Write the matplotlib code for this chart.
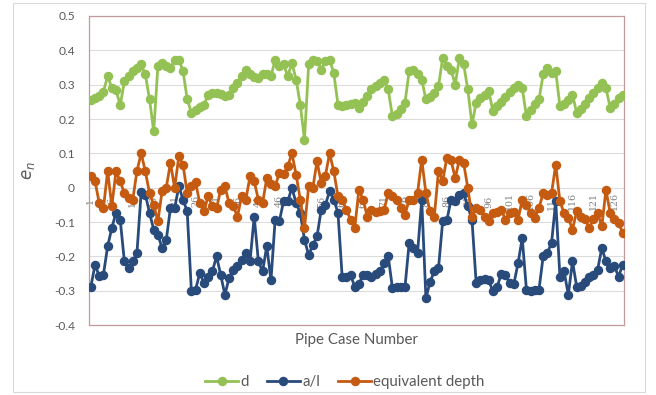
import matplotlib
matplotlib.use("Agg")
import matplotlib.pyplot as plt
from matplotlib.lines import Line2D
from matplotlib.patches import Rectangle

plt.rcParams['font.family'] = ['Lato', 'DejaVu Sans']

# pipe case numbers 1..128
cases = list(range(1, 129))

d_vals = [
    0.255, 0.262, 0.268, 0.280, 0.325, 0.290, 0.285, 0.240, 0.310, 0.325,
    0.340, 0.349, 0.359, 0.330, 0.258, 0.164, 0.354, 0.363, 0.355, 0.349,
    0.372, 0.373, 0.340, 0.258, 0.218, 0.225, 0.235, 0.242, 0.270, 0.276,
    0.275, 0.272, 0.266, 0.270, 0.290, 0.305, 0.325, 0.344, 0.330, 0.322,
    0.318, 0.330, 0.330, 0.325, 0.373, 0.354, 0.360, 0.325, 0.363, 0.315,
    0.242, 0.140, 0.359, 0.373, 0.370, 0.344, 0.370, 0.373, 0.334, 0.242,
    0.237, 0.240, 0.245, 0.247, 0.232, 0.250, 0.266, 0.286, 0.295, 0.305,
    0.315, 0.286, 0.208, 0.215, 0.228, 0.247, 0.339, 0.344, 0.330, 0.315,
    0.257, 0.265, 0.275, 0.295, 0.378, 0.354, 0.344, 0.300, 0.378, 0.360,
    0.286, 0.184, 0.247, 0.261, 0.270, 0.281, 0.223, 0.237, 0.250, 0.265,
    0.280, 0.290, 0.300, 0.290, 0.208, 0.227, 0.245, 0.257, 0.330, 0.349,
    0.335, 0.339, 0.237, 0.245, 0.255, 0.271, 0.218, 0.230, 0.245, 0.260,
    0.275, 0.290, 0.305, 0.290, 0.232, 0.245, 0.260, 0.271,
]

al_vals = [
    -0.288, -0.224, -0.258, -0.253, -0.171, -0.117, -0.073, -0.093, -0.215, -0.235,
    -0.215, -0.190, -0.014, -0.020, -0.073, -0.122, -0.137, -0.176, -0.152, -0.059,
    -0.060, 0.004, -0.035, -0.069, -0.302, -0.297, -0.249, -0.278, -0.260, -0.244,
    -0.200, -0.254, -0.312, -0.263, -0.239, -0.229, -0.210, -0.190, -0.215, -0.084,
    -0.215, -0.244, -0.170, -0.270, -0.093, -0.098, -0.040, -0.040, 0.000, -0.045,
    -0.073, -0.152, -0.196, -0.167, -0.142, -0.064, -0.050, -0.010, -0.035, -0.073,
    -0.259, -0.260, -0.255, -0.288, -0.280, -0.255, -0.255, -0.260, -0.250, -0.244,
    -0.220, -0.200, -0.292, -0.290, -0.290, -0.290, -0.161, -0.176, -0.190, -0.035,
    -0.322, -0.274, -0.244, -0.235, -0.098, -0.095, -0.035, -0.040, -0.020, -0.016,
    -0.054, -0.093, -0.278, -0.270, -0.265, -0.270, -0.302, -0.290, -0.250, -0.255,
    -0.278, -0.280, -0.220, -0.147, -0.297, -0.300, -0.298, -0.297, -0.200, -0.190,
    -0.161, -0.040, -0.259, -0.244, -0.312, -0.215, -0.288, -0.285, -0.274, -0.259,
    -0.255, -0.239, -0.176, -0.215, -0.235, -0.229, -0.259, -0.224,
]

eq_vals = [
    0.033, 0.018, -0.045, -0.059, 0.048, -0.054, 0.048, 0.018, -0.016, -0.030,
    -0.035, 0.048, 0.100, 0.048, -0.016, -0.050, -0.098, -0.010, 0.000, 0.072,
    0.000, 0.091, 0.067, -0.016, 0.004, 0.016, -0.045, -0.069, -0.025, -0.054,
    -0.060, -0.006, 0.004, -0.045, -0.054, -0.084, -0.025, -0.035, 0.033, 0.018,
    -0.035, -0.045, 0.028, 0.010, 0.004, 0.043, 0.040, 0.062, 0.100, 0.038,
    -0.035, -0.118, 0.004, 0.000, 0.077, 0.014, 0.035, 0.100, 0.048, -0.025,
    -0.035, -0.064, -0.093, -0.118, -0.006, -0.035, -0.084, -0.064, -0.070, -0.069,
    -0.065, -0.016, -0.025, -0.035, -0.060, -0.079, -0.035, -0.035, -0.016, 0.082,
    -0.016, -0.069, -0.084, 0.048, 0.020, 0.087, 0.080, 0.028, 0.082, 0.072,
    0.000, -0.084, -0.059, -0.065, -0.084, -0.098, -0.074, -0.070, -0.065, -0.093,
    -0.074, -0.070, -0.093, -0.035, -0.050, -0.074, -0.088, -0.059, -0.016, -0.020,
    -0.016, 0.067, -0.040, -0.074, -0.088, -0.122, -0.069, -0.084, -0.090, -0.118,
    -0.090, -0.074, -0.113, -0.006, -0.074, -0.090, -0.103, -0.132,
]

series_names = ["d", "a/l", "equivalent depth"]
series_colors = ["#94C153", "#284B7C", "#C55A11"]

x_ticks = list(range(1, 127, 5))
y_ticks = [0.5, 0.4, 0.3, 0.2, 0.1, 0.0, -0.1, -0.2, -0.3, -0.4]
y_labels = ["0.5", "0.4", "0.3", "0.2", "0.1", "0", "-0.1", "-0.2", "-0.3", "-0.4"]

fig = plt.figure(figsize=(6.56, 3.95), dpi=100)
ax = fig.add_axes([89 / 656, 1 - 325 / 395, (624 - 89) / 656, (325 - 16) / 395])

# outer chart border
fig.patches.append(Rectangle((13 / 656, 3 / 395), 632 / 656, 389 / 395,
                             transform=fig.transFigure, fill=False,
                             edgecolor="#D9D9D9", linewidth=0.8))

ax.set_ylim(-0.4, 0.5)
ax.set_xlim(0.55, 128.3)
ax.set_yticks(y_ticks)
ax.set_yticklabels(y_labels)
ax.set_xticks([])
ax.tick_params(axis='y', length=0, pad=10, labelsize=8.6, labelcolor="#595959")
ax.yaxis.grid(True, color="#DCDCDC", linewidth=0.8)
ax.set_axisbelow(True)
for sp in ax.spines.values():
    sp.set_color("#C29A9E")
    sp.set_linewidth(0.9)

# category labels sit on the axis, behind the data
for t in x_ticks:
    ax.text(t, -0.04, str(t), rotation=90, ha='center', va='center',
            fontsize=6.8, color="#808080", family='DejaVu Serif', zorder=1)

for vals, name, col in zip([d_vals, al_vals, eq_vals], series_names, series_colors):
    ax.plot(cases, vals, color=col, linewidth=2.0, marker='o', markersize=5.8,
            label=name, zorder=3)

ax.set_ylabel(r"$e_n$", fontsize=12, color="#595959", labelpad=12)
ax.set_xlabel("Pipe Case Number", fontsize=10.8, color="#595959", labelpad=6)

handles = [Line2D([0], [0], color=c, linewidth=2.0, marker='o', markersize=5.8)
           for c in series_colors]
fig.legend(handles, series_names, loc='center', bbox_to_anchor=(345 / 656, 1 - 382 / 395),
           ncol=3, frameon=False, fontsize=10.8, labelcolor="#595959",
           handlelength=2.2, handletextpad=0.15, columnspacing=1.2)

fig.savefig("out.png", dpi=100)
